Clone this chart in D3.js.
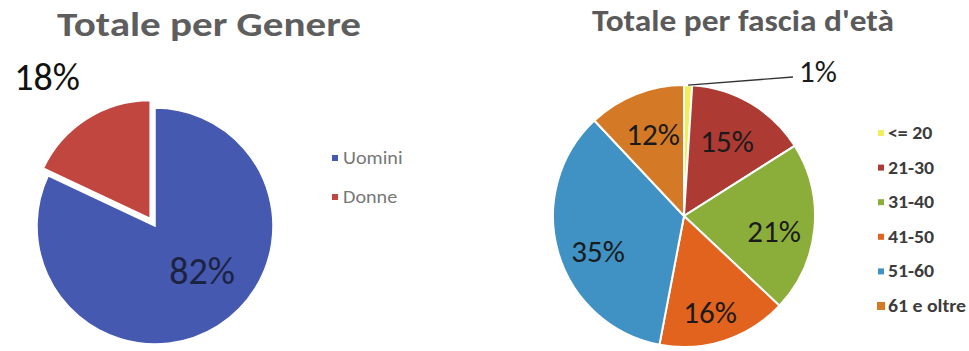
<!DOCTYPE html>
<html>
<head>
<meta charset="utf-8">
<script src="https://cdn.jsdelivr.net/npm/d3@7/dist/d3.min.js"></script>
<style>
  html, body { margin: 0; padding: 0; background: #fff; }
  svg { display: block; }
</style>
</head>
<body>
<svg id="chart" width="969" height="351"></svg>
<script>
// Gender split
const genderCategories = ["Uomini", "Donne"];
const genderValues = [82, 18];
const genderColors = ["#4559b1", "#c0463f"];

// Age-band split
const ageCategories = ["<= 20", "21-30", "31-40", "41-50", "51-60", "61 e oltre"];
const ageValues = [1, 15, 21, 16, 35, 12];
const ageColors = ["#f0ee5a", "#ad3b34", "#8bae3b", "#e2631e", "#3f92c3", "#d47a27"];

const svg = d3.select("#chart");
const font = "Carlito, 'Open Sans', 'Noto Sans', sans-serif";

// ---------- Left chart: Totale per Genere ----------
{
  const cx = 155, cy = 226, r = 118;
  const g = svg.append("g").attr("transform", `translate(${cx},${cy})`);

  svg.append("text")
    .attr("x", 209).attr("y", 36)
    .attr("text-anchor", "middle")
    .attr("font-family", font).attr("font-weight", "bold")
    .attr("font-size", 34).attr("fill", "#5e5e5e")
    .attr("textLength", 304).attr("lengthAdjust", "spacingAndGlyphs")
    .text("Totale per Genere");

  // Uomini starts at 12 o'clock going clockwise; Donne closes the circle
  const pie = d3.pie().sort(null).value(d => d.v);
  const arcs = pie(genderCategories.map((c, i) => ({ c, v: genderValues[i], i })));
  const arc = d3.arc().innerRadius(0).outerRadius(r);

  const explode = { 1: 9 };
  g.selectAll("path.slice").data(arcs).join("path")
    .attr("class", "slice")
    .attr("d", arc)
    .attr("fill", d => genderColors[d.data.i])
    .attr("stroke", "#fff").attr("stroke-width", 1.5)
    .attr("transform", d => {
      const off = explode[d.data.i] || 0;
      const a = (d.startAngle + d.endAngle) / 2;
      return `translate(${off * Math.sin(a)},${-off * Math.cos(a)})`;
    });

  // Percentage labels
  const labelPos = [[47, 58], [-108, -136]];
  g.selectAll("text.pct").data(arcs).join("text")
    .attr("class", "pct")
    .attr("x", (d, i) => labelPos[i][0])
    .attr("y", (d, i) => labelPos[i][1])
    .attr("text-anchor", "middle")
    .attr("font-family", font).attr("font-size", 38)
    .attr("fill", (d, i) => i === 0 ? "#1c2340" : "#111")
    .text(d => d.data.v + "%");

  // Legend
  const lg = svg.append("g").attr("transform", "translate(335,158)");
  genderCategories.forEach((c, i) => {
    const row = lg.append("g").attr("transform", `translate(0,${i * 39})`);
    row.append("rect").attr("x", -3).attr("y", -3).attr("width", 6).attr("height", 6)
      .attr("fill", genderColors[i]);
    row.append("text").attr("x", 8).attr("y", 6)
      .attr("font-family", font).attr("font-size", 18).attr("fill", "#777")
      .attr("transform", "translate(8,0) scale(1.12,1) translate(-8,0)")
      .text(c);
  });
}

// ---------- Right chart: Totale per fascia d'età ----------
{
  const cx = 684, cy = 216, r = 131;
  const g = svg.append("g").attr("transform", `translate(${cx},${cy})`);

  svg.append("text")
    .attr("x", 743).attr("y", 31)
    .attr("text-anchor", "middle")
    .attr("font-family", font).attr("font-weight", "bold")
    .attr("font-size", 30).attr("fill", "#5a5a5a")
    .attr("textLength", 302).attr("lengthAdjust", "spacingAndGlyphs")
    .text("Totale per fascia d'età");

  const pie = d3.pie().sort(null).value(d => d.v);
  const arcs = pie(ageCategories.map((c, i) => ({ c, v: ageValues[i], i })));
  const arc = d3.arc().innerRadius(0).outerRadius(r);

  g.selectAll("path.slice").data(arcs).join("path")
    .attr("class", "slice")
    .attr("d", arc)
    .attr("fill", d => ageColors[d.data.i])
    .attr("stroke", "#fff").attr("stroke-width", 2);

  // Leader line for the tiny first slice
  const first = arcs[0];
  const fa = (first.startAngle + first.endAngle) / 2;
  g.append("path")
    .attr("d", d3.line()([[r * Math.sin(fa), -r * Math.cos(fa)], [109, -139]]))
    .attr("fill", "none").attr("stroke", "#333").attr("stroke-width", 1.3);

  // Label offsets relative to the centre
  const labelPos = [[134, -144], [43, -74], [90, 16], [26, 97], [-86, 36], [-31, -81]];
  g.selectAll("text.pct").data(arcs).join("text")
    .attr("class", "pct")
    .attr("x", (d, i) => labelPos[i][0])
    .attr("y", (d, i) => labelPos[i][1] + 10)
    .attr("text-anchor", "middle")
    .attr("font-family", font).attr("font-size", 31)
    .attr("fill", "#1a1a1a")
    .text(d => d.data.v + "%");

  // Legend
  const lg = svg.append("g").attr("transform", "translate(881,133)");
  ageCategories.forEach((c, i) => {
    const row = lg.append("g").attr("transform", `translate(0,${i * 34.6})`);
    const s = i === ageCategories.length - 1 ? 8 : 6;
    row.append("rect").attr("x", -s / 2).attr("y", -s / 2).attr("width", s).attr("height", s)
      .attr("fill", ageColors[i]);
    row.append("text").attr("x", 7).attr("y", 6)
      .attr("font-family", font).attr("font-weight", "bold")
      .attr("font-size", 18).attr("fill", "#3c3c3c")
      .attr("transform", "translate(7,0) scale(1.1,1) translate(-7,0)")
      .text(c);
  });
}
</script>
</body>
</html>
